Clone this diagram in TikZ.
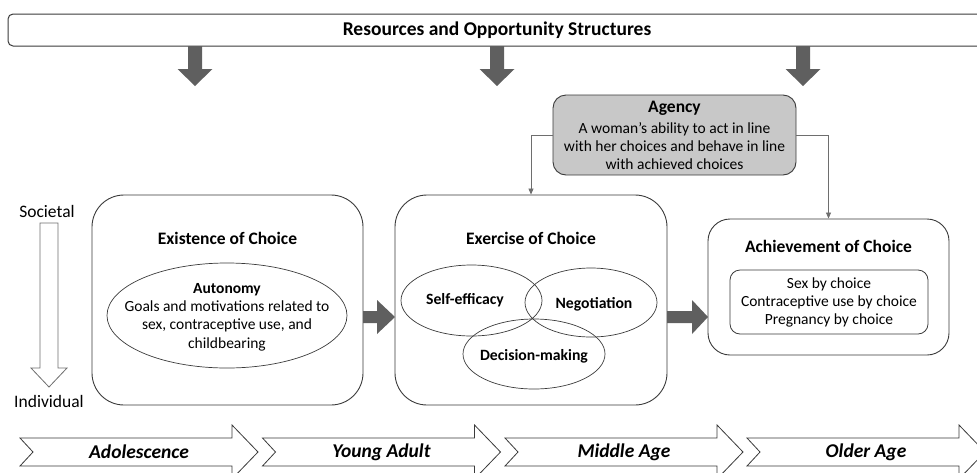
\documentclass[tikz,border=0pt]{standalone}
\usepackage{fontspec}
\setmainfont{Carlito}
\usetikzlibrary{shapes.geometric,calc,arrows.meta}
\definecolor{arrgray}{HTML}{5F5F5F}
\definecolor{agfill}{HTML}{C8C8C8}
\definecolor{linegray}{HTML}{3A3A3A}
\definecolor{conngray}{HTML}{6E6E6E}
\begin{document}
\begin{tikzpicture}[x=1pt,y=-1pt,
  bigbox/.style={draw=linegray, line width=0.9pt, rounded corners=32pt, inner sep=0pt},
  titletext/.style={font=\fontsize{17.5}{20}\selectfont\bfseries, inner sep=0pt},
  bodytext/.style={font=\fontsize{15.5}{18.2}\selectfont, align=center, inner sep=0pt},
  ovaltext/.style={font=\fontsize{15.7}{18}\selectfont\bfseries, inner sep=0pt},
  oval/.style={draw=linegray, line width=0.7pt, ellipse, inner sep=0pt},
  blockarrow/.style={fill=arrgray, draw=none},
  conn/.style={draw=conngray, line width=0.8pt, -{Triangle[length=6pt,width=5pt]}},
  chev/.style={draw=linegray, line width=0.8pt, fill=white},
  chevtext/.style={font=\fontsize{19.5}{22}\selectfont\bfseries\itshape, inner sep=0pt}
]
\useasboundingbox (0,0) rectangle (977,472);

% top bar
\node[draw=linegray, line width=1pt, rounded corners=5pt, minimum width=978pt, minimum height=32pt, inner sep=0pt,
  font=\fontsize{19.5}{22}\selectfont\bfseries] (res) at (497,30) {Resources and Opportunity Structures};

% down arrows
\foreach \c in {195,497,803}{
  \fill[blockarrow] (\c-7,46) -- (\c+7,46) -- (\c+7,69) -- (\c+17.5,69) -- (\c,86) -- (\c-17.5,69) -- (\c-7,69) -- cycle;
}

% Agency
\node[draw=linegray, line width=0.9pt, fill=agfill, rounded corners=13pt, minimum width=243pt, minimum height=80pt, inner sep=0pt] (agency) at (674.5,135) {};
\node[titletext] (agtitle) at (674.5,108) {Agency};
\node[bodytext, font=\fontsize{15.5}{17.6}\selectfont] (agtext) at (674.5,146) {A woman's ability to act in line\\with her choices and behave in line\\with achieved choices};

% Existence of Choice
\node[bigbox, minimum width=271pt, minimum height=210pt] (exist) at (227.5,300) {};
\node[titletext] (exttitle) at (227.5,238) {Existence of Choice};
\node[oval, minimum width=240pt, minimum height=105pt] (auto) at (227,315.5) {};
\node[bodytext] (autotext) at (227,317) {\textbf{Autonomy}\\Goals and motivations related to\\sex, contraceptive use, and\\childbearing};

% Exercise of Choice
\node[bigbox, minimum width=272pt, minimum height=210pt] (exer) at (531,300) {};
\node[titletext] (exetitle) at (531,238) {Exercise of Choice};
\node[oval, minimum width=141pt, minimum height=71pt] (selfe) at (471.5,300.5) {};
\node[oval, minimum width=132pt, minimum height=69pt] (nego) at (591,302.5) {};
\node[oval, minimum width=142pt, minimum height=70pt] (decis) at (534,354) {};
\node[ovaltext] (selfet) at (465,300) {Self-efficacy};
\node[ovaltext] (negot) at (594,304) {Negotiation};
\node[ovaltext] (decist) at (534,356) {Decision-making};

% Achievement of Choice
\node[bigbox, rounded corners=22pt, minimum width=241pt, minimum height=136pt] (achv) at (828.5,287) {};
\node[titletext] (achtitle) at (828.5,246) {Achievement of Choice};
\node[draw=linegray, line width=0.8pt, rounded corners=10pt, minimum width=198pt, minimum height=64pt, inner sep=0pt] (inner) at (829,302) {};
\node[bodytext] (innertext) at (829,302.5) {Sex by choice\\Contraceptive use by choice\\Pregnancy by choice};

% connectors from Agency
\draw[conn] (agency.west) -| (exer.north);
\draw[conn] (agency.east) -| (achv.north);

% block arrows between boxes
\fill[blockarrow] (363,311) -- (377,311) -- (377,300) -- (395,317) -- (377,334) -- (377,323) -- (363,323) -- cycle;
\fill[blockarrow] (667,311) -- (692,311) -- (692,300) -- (708,317) -- (692,334) -- (692,323) -- (667,323) -- cycle;

% Societal -> Individual
\node[font=\fontsize{17.5}{20}\selectfont, inner sep=0pt] (soc) at (47,211) {Societal};
\node[font=\fontsize{17.5}{20}\selectfont, inner sep=0pt] (ind) at (49,401) {Individual};
\draw[draw=conngray, line width=0.8pt, fill=white] (40,223) -- (58,223) -- (58,368) -- (67,368) -- (49,387) -- (31,368) -- (40,368) -- cycle;

% life stages chevrons
\foreach \L/\t/\n in {20/Adolescence/adol, 262.5/Young Adult/young, 505/Middle Age/middle, 747/Older Age/older}{
  \draw[chev] (\L,438) -- (\L+212,438) -- (\L+212,425) -- (\L+238,452) -- (\L+212,479) -- (\L+212,466) -- (\L,466) -- (\L+13,452) -- cycle;
  \node[chevtext] (\n) at (\L+119,452) {\t};
}
\end{tikzpicture}
\end{document}
